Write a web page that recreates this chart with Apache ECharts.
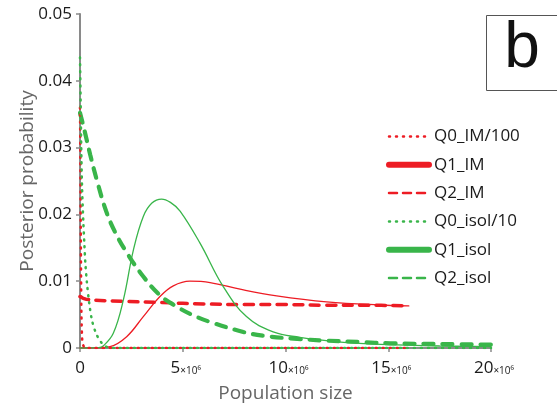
<!DOCTYPE html>
<html>
<head>
<meta charset="utf-8">
<script src="https://cdn.jsdelivr.net/npm/echarts@6/dist/echarts.min.js"></script>
<style>html,body{margin:0;padding:0;background:#fff}#c{width:557px;height:416px}</style>
</head>
<body>
<div id="c"></div>
<script>
// x values in units of 10^6 (population size), y = posterior probability
var xTicks = [0, 5, 10, 15, 20];
var yTicks = [0, 0.01, 0.02, 0.03, 0.04, 0.05];
var seriesNames = ['Q0_IM/100', 'Q1_IM', 'Q2_IM', 'Q0_isol/10', 'Q1_isol', 'Q2_isol'];

var q0IM = [[0,0.036],[0.02,0.028],[0.04,0.016],[0.07,0.005],[0.12,0.0008],[0.25,0],[2,0],[6,0],[10,0],[14,0],[16,0]];
var q1IM = [[0,0],[0.8,0],[1.46,0.0002],[2.27,0.0017],[3.08,0.0047],[3.89,0.0077],[4.54,0.0093],[5.35,0.0100],[6.33,0.0098],[7.79,0.0088],[9.57,0.0078],[12.0,0.0069],[14.9,0.0064],[16,0.0063]];
var q2IM = [[0,0.0077],[0.3,0.0073],[2,0.0070],[4,0.0068],[6,0.0066],[8,0.0065],[10,0.0065],[12,0.0064],[14,0.0064],[16,0.0063]];
var q0Isol = [[0,0.0435],[0.03,0.037],[0.06,0.030],[0.1,0.024],[0.16,0.019],[0.21,0.0157],[0.26,0.0127],[0.34,0.0097],[0.45,0.0067],[0.58,0.0042],[0.78,0.0022],[1.02,0.0009],[1.27,0.0002],[1.6,0],[5,0],[10,0],[15,0],[20,0]];
var q1Isol = [[0,0],[0.5,0],[0.9,0.00005],[1.13,0.0003],[1.62,0.0022],[2.11,0.0072],[2.6,0.0147],[3.08,0.0197],[3.5,0.0217],[3.97,0.0223],[4.4,0.0218],[4.87,0.0205],[5.84,0.0157],[6.97,0.0092],[8.1,0.0047],[9.4,0.0024],[10.7,0.0016],[12.3,0.0010],[13.6,0.0007],[15,0.0005],[17.5,0.0003],[20,0.0002]];
var q2Isol = [[0,0.0352],[0.2,0.0328],[0.5,0.0289],[0.85,0.0248],[1.27,0.0205],[1.7,0.0174],[2.27,0.0143],[3.08,0.0107],[3.89,0.0079],[4.7,0.0062],[5.5,0.0049],[6.33,0.0039],[7.95,0.0024],[9,0.0018],[10.4,0.0014],[12,0.0011],[13.6,0.0009],[15.1,0.0007],[17.5,0.0006],[20,0.0005]];

var RED = '#ed1c24', GREEN = '#39b54a';
var FONT = 'Open Sans';

function mk(name, data, color, width, type, smooth) {
  return {
    name: name, type: 'line', data: data, showSymbol: false, symbol: 'none',
    smooth: smooth, animation: false,
    lineStyle: { color: color, width: width, type: type, cap: 'round' },
    itemStyle: { color: color }
  };
}

var noSym = { color: 'rgba(0,0,0,0)', borderWidth: 0, opacity: 0 };

var chart = echarts.init(document.getElementById('c'), null, { renderer: 'canvas' });
chart.setOption({
  animation: false,
  backgroundColor: '#fff',
  grid: { left: 80, right: 66, top: 14, bottom: 68, containLabel: false },
  xAxis: {
    type: 'value', min: xTicks[0], max: xTicks[xTicks.length - 1], interval: 5,
    name: 'Population size', nameLocation: 'middle', nameGap: 36, nameMoveOverlap: false,
    nameTextStyle: { fontFamily: FONT, fontSize: 19, color: '#666' },
    axisLine: { onZero: false, lineStyle: { color: '#8a8a8a', width: 2 } },
    axisTick: { show: true, length: 4, lineStyle: { color: '#8a8a8a', width: 1.5 } },
    splitLine: { show: false },
    axisLabel: {
      margin: 12, color: '#1a1a1a', fontFamily: FONT, fontSize: 17,
      formatter: function (v) { return v === 0 ? '0' : '{n|' + v + '}{s|×10⁶}'; },
      rich: {
        n: { fontFamily: FONT, fontSize: 17, color: '#1a1a1a', padding: [0, 0, 0, 6] },
        s: { fontFamily: FONT, fontSize: 10, color: '#1a1a1a', padding: [5, 0, 0, 0] }
      }
    }
  },
  yAxis: {
    type: 'value', min: yTicks[0], max: yTicks[yTicks.length - 1], interval: 0.01,
    name: 'Posterior probability', nameLocation: 'middle', nameGap: 43, nameMoveOverlap: false,
    nameTextStyle: { fontFamily: FONT, fontSize: 19, color: '#666' },
    axisLine: { show: true, lineStyle: { color: '#8a8a8a', width: 2 } },
    axisTick: { show: true, length: 4, lineStyle: { color: '#8a8a8a', width: 1.5 } },
    splitLine: { show: false },
    axisLabel: {
      margin: 8, color: '#1a1a1a', fontFamily: FONT, fontSize: 17,
      formatter: function (v) { return v === 0 ? '0' : v.toFixed(2); }
    }
  },
  legend: {
    orient: 'vertical', left: 381, top: 123, itemWidth: 40, itemHeight: 14, itemGap: 11.3,
    itemStyle: noSym,
    textStyle: { fontFamily: FONT, fontSize: 17, color: '#1a1a1a' },
    data: [
      { name: seriesNames[0], itemStyle: noSym, lineStyle: { width: 2.5, type: [1, 6], cap: 'round' } },
      { name: seriesNames[1], itemStyle: noSym, lineStyle: { width: 6, type: 'solid', cap: 'round' } },
      { name: seriesNames[2], itemStyle: noSym, lineStyle: { width: 2.5, type: [8, 6], cap: 'round' } },
      { name: seriesNames[3], itemStyle: noSym, lineStyle: { width: 2.5, type: [1, 6], cap: 'round' } },
      { name: seriesNames[4], itemStyle: noSym, lineStyle: { width: 6, type: 'solid', cap: 'round' } },
      { name: seriesNames[5], itemStyle: noSym, lineStyle: { width: 2.5, type: [8, 6], cap: 'round' } }
    ]
  },
  graphic: [
    { type: 'rect', left: 486, top: 15, shape: { width: 90, height: 75 },
      style: { fill: '#fff', stroke: '#555', lineWidth: 1 }, z: 100 },
    { type: 'text', x: 522, y: 49, style: { text: 'b', fontFamily: 'Liberation Sans', fontSize: 64, fill: '#111', align: 'center', verticalAlign: 'middle' }, z: 101 }
  ],
  series: [
    mk(seriesNames[2], q2IM, RED, 3.5, [9, 7.5], 0.4),
    mk(seriesNames[5], q2Isol, GREEN, 4.2, [10, 9], 0.4),
    mk(seriesNames[1], q1IM, RED, 1.3, 'solid', 0.4),
    mk(seriesNames[4], q1Isol, GREEN, 1.3, 'solid', 0.4),
    mk(seriesNames[0], q0IM, RED, 2.5, [1, 6], 0.2),
    mk(seriesNames[3], q0Isol, GREEN, 2.5, [1, 6], 0.3)
  ]
});
</script>
</body>
</html>
